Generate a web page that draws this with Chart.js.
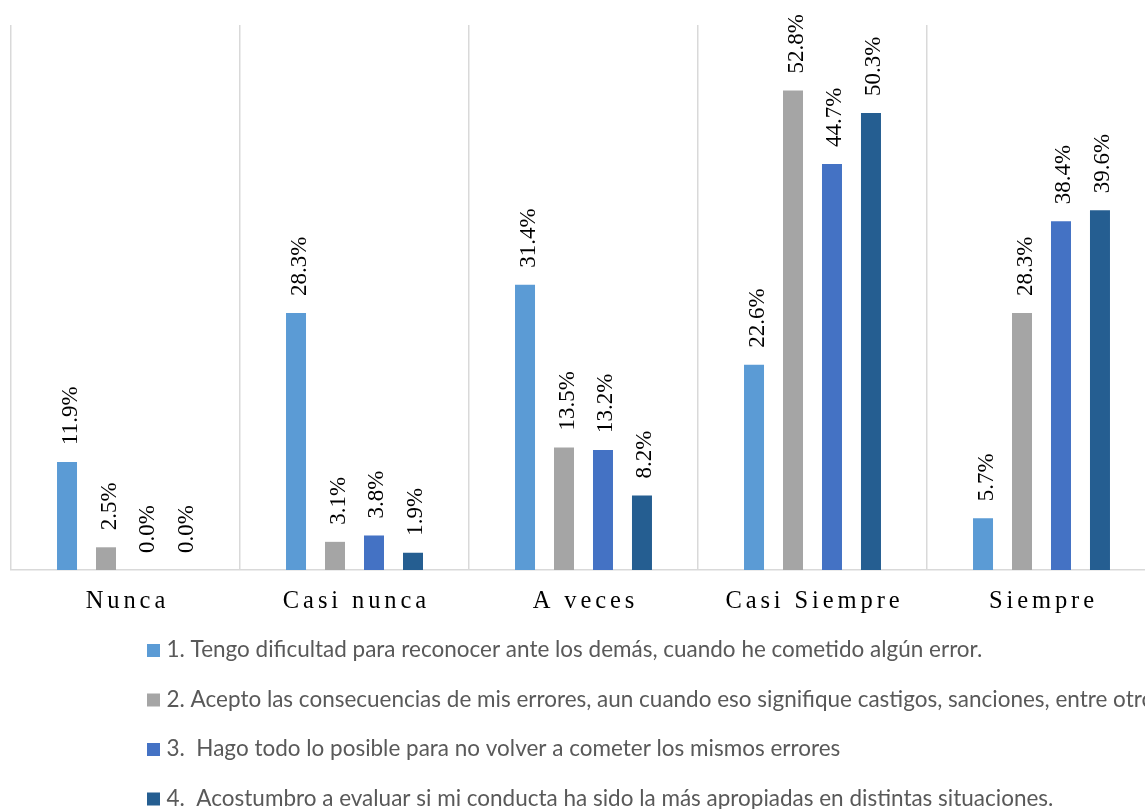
<!DOCTYPE html>
<html>
<head>
<meta charset="utf-8">
<script src="https://cdn.jsdelivr.net/npm/chart.js@4/dist/chart.umd.min.js"></script>
<style>
  html, body { margin: 0; padding: 0; background: #ffffff; overflow: hidden; }
  #wrap { position: relative; width: 1170px; height: 809px; }
</style>
</head>
<body>
<div id="wrap"><canvas id="c" width="1170" height="809"></canvas></div>
<script>
const categories = ["Nunca", "Casi nunca", "A veces", "Casi Siempre", "Siempre"];
const seriesNames = [
  "1. Tengo dificultad para reconocer ante los demás, cuando he cometido algún error.",
  "2. Acepto las consecuencias de mis errores, aun cuando eso signifique castigos, sanciones, entre otros.",
  "3.  Hago todo lo posible para no volver a cometer los mismos errores",
  "4.  Acostumbro a evaluar si mi conducta ha sido la más apropiadas en distintas situaciones."
];
const serie1 = [11.9, 28.3, 31.4, 22.6, 5.7];
const serie2 = [2.5, 3.1, 13.5, 52.8, 28.3];
const serie3 = [0.0, 3.8, 13.2, 44.7, 38.4];
const serie4 = [0.0, 1.9, 8.2, 50.3, 39.6];
const colors = ["#5B9BD5", "#A5A5A5", "#4472C4", "#255E91"];

const valueLabels = {
  id: "valueLabels",
  afterDatasetsDraw(chart) {
    const ctx = chart.ctx;
    ctx.save();
    ctx.font = "23px 'Liberation Serif'";
    ctx.fillStyle = "#000000";
    ctx.textAlign = "left";
    ctx.textBaseline = "alphabetic";
    chart.data.datasets.forEach((ds, di) => {
      const meta = chart.getDatasetMeta(di);
      meta.data.forEach((bar, i) => {
        const txt = ds.data[i].toFixed(1) + "%";
        ctx.save();
        ctx.translate(bar.x + 9.5, bar.y - 17);
        ctx.rotate(-Math.PI / 2);
        ctx.fillText(txt, 0, 0);
        ctx.restore();
      });
    });
    ctx.restore();
  }
};

const catLabels = {
  id: "catLabels",
  afterDraw(chart) {
    const ctx = chart.ctx;
    const xs = chart.scales.x;
    ctx.save();
    ctx.font = "24.5px 'Liberation Serif'";
    ctx.fillStyle = "#000000";
    ctx.textAlign = "center";
    ctx.textBaseline = "alphabetic";
    const sp = 3.9;
    try { ctx.letterSpacing = sp + "px"; } catch (e) {}
    categories.forEach((c, i) => {
      ctx.fillText(c, xs.getPixelForValue(i) + sp / 2, 608);
    });
    ctx.restore();
  }
};

const legendRows = {
  id: "legendRows",
  afterDraw(chart) {
    const ctx = chart.ctx;
    ctx.save();
    ctx.font = "20px Lato";
    const w = ctx.measureText(seriesNames[0]).width;
    const size = 20 * 816 / w;
    ctx.font = size.toFixed(2) + "px Lato";
    ctx.textAlign = "left";
    ctx.textBaseline = "alphabetic";
    const baselines = [657, 706.5, 756, 805.5];
    chart.data.datasets.forEach((ds, i) => {
      const b = baselines[i];
      ctx.fillStyle = ds.backgroundColor;
      ctx.fillRect(147, b - 13, 13, 13);
      ctx.fillStyle = "#595959";
      ctx.fillText(ds.label, 166.5, b);
    });
    ctx.restore();
  }
};

const datasets = [serie1, serie2, serie3, serie4].map((d, i) => ({
  label: seriesNames[i],
  data: d,
  backgroundColor: colors[i],
  borderWidth: 0,
  categoryPercentage: 0.681,
  barPercentage: 0.513
}));

new Chart(document.getElementById("c"), {
  type: "bar",
  data: { labels: categories, datasets: datasets },
  options: {
    responsive: false,
    devicePixelRatio: 1,
    animation: false,
    layout: { padding: { left: 11, right: 14, top: 25, bottom: 239 } },
    plugins: { legend: { display: false }, tooltip: { enabled: false } },
    scales: {
      x: {
        grid: { display: true, offset: true, color: "#D9D9D9", lineWidth: 1.5, drawTicks: false },
        border: { display: true, color: "#D9D9D9", width: 1.5 },
        ticks: { display: false },
        afterFit(s) { s.height = 0; }
      },
      y: {
        display: false,
        min: 0,
        max: 60
      }
    }
  },
  plugins: [valueLabels, catLabels, legendRows]
});
</script>
</body>
</html>
